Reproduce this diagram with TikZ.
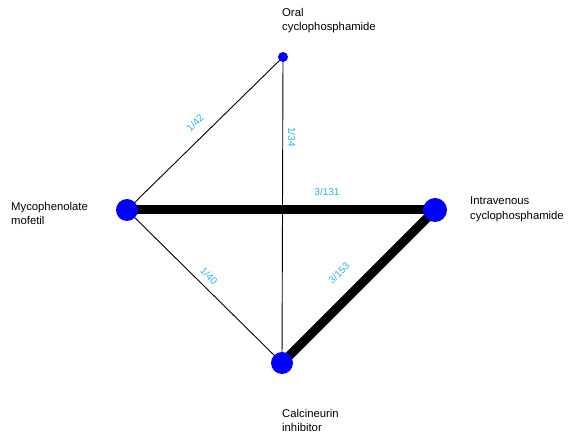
\documentclass[tikz,border=0pt]{standalone}
\usepackage{fontspec}
\setmainfont{Liberation Sans}
\begin{document}
\begin{tikzpicture}[x=1pt,y=-1pt,
  trt/.style={circle,fill=blue,inner sep=0pt},
  lab/.style={font=\fontsize{11.3}{14.5}\selectfont,align=left,anchor=north west,inner sep=0pt},
  elab/.style={font=\fontsize{10}{12}\selectfont,text={rgb,255:red,40;green,180;blue,235},inner sep=0pt},
  thin/.style={line width=0.9pt,black},
  thick/.style={line width=9pt,black}]
\useasboundingbox (0,0) rectangle (570,435);
\coordinate (oral) at (283,57);
\coordinate (mmf) at (127,210);
\coordinate (iv) at (435,210);
\coordinate (cni) at (282,363);
\draw[thin] (mmf) -- (oral);
\draw[thin] (oral) -- (cni);
\draw[thin] (mmf) -- (cni);
\draw[thick] (mmf) -- (iv);
\draw[thick] (iv) -- (cni);
\node[trt,minimum size=10pt] (noral) at (oral) {};
\node[trt,minimum size=22pt] (nmmf) at (mmf) {};
\node[trt,minimum size=24pt] (niv) at (iv) {};
\node[trt,minimum size=22pt] (ncni) at (cni) {};
\node[lab] (toral) at (282,8) {Oral\\cyclophosphamide};
\node[lab] (tmmf) at (11,202) {Mycophenolate\\mofetil};
\node[lab] (tiv) at (470,197) {Intravenous\\cyclophosphamide};
\node[lab] (tcni) at (282,409) {Calcineurin\\inhibitor};
\node[elab,rotate=45] (e1) at (195,123) {1/42};
\node[elab,rotate=-90] (e2) at (292,137) {1/34};
\node[elab] (e3) at (327,192) {3/131};
\node[elab,rotate=-45] (e4) at (209,276) {1/40};
\node[elab,rotate=45] (e5) at (339,273) {3/153};
\end{tikzpicture}
\end{document}
